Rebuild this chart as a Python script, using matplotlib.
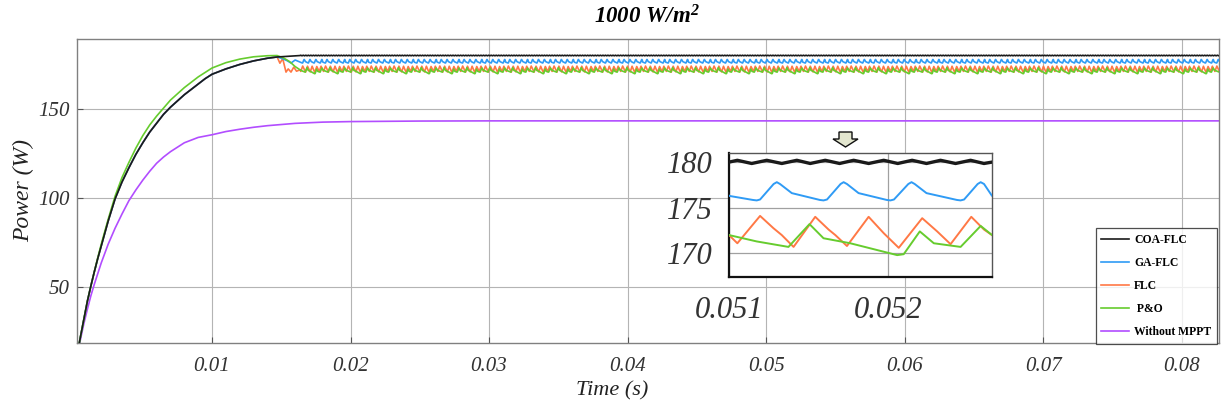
import numpy as np
import matplotlib
matplotlib.use("Agg")
import matplotlib.pyplot as plt
from matplotlib.patches import Polygon

# ---------------- data ----------------
rise_t = [0, 0.00025, 0.0005, 0.00075, 0.001, 0.00125, 0.0015, 0.00175, 0.002,
          0.0025, 0.003, 0.0035, 0.004, 0.0045, 0.005, 0.0055, 0.006, 0.0065,
          0.007, 0.0075, 0.008, 0.0085, 0.009, 0.0095, 0.010, 0.011, 0.012,
          0.013, 0.014, 0.0147]
coa_rise = [0, 11.5, 22, 32, 42, 50.5, 58.5, 66, 73, 87, 99.5, 109, 117, 124.5,
            131, 137, 142, 147, 151, 154.5, 158, 161, 164, 167, 169.5, 172.5,
            175, 177, 178.5, 179.2]
po_rise = [0, 11.5, 22, 32, 42, 50.5, 58.5, 66.5, 74, 88, 101, 111.5, 120, 128,
           135, 141, 146, 150.5, 155, 158.5, 162, 165, 168, 170.5, 173, 176,
           178, 179.3, 179.9, 180.0]

coa_trans_t = [0.0155]
coa_trans = [179.6]
ga_trans_t = [0.0150, 0.0154, 0.0157, 0.0160]
ga_trans = [178.5, 177.2, 175.8, 177.5]
flc_trans_t = [0.0149, 0.0151, 0.01534, 0.0155, 0.0157, 0.0159, 0.0161]
flc_trans = [175.7, 178.3, 170.7, 172.5, 170.7, 173.5, 171.2]
po_trans_t = [0.0152, 0.0156, 0.0160]
po_trans = [178.5, 176.6, 173.8]

# steady-state ripple, one 1.65 ms window (offsets in s)
steady_t0 = 0.01635
window = 0.00165
n_windows = 42
coa_off = [0, 0.0000524, 0.0001425, 0.0002369, 0.0003312, 0.0004256, 0.0005094,
           0.0006038, 0.0006939, 0.0007820, 0.0008763, 0.0009706, 0.0010587,
           0.0011488, 0.0012390, 0.0013270, 0.0014214, 0.0015157, 0.0015996]
coa_rip = [180.0, 180.2, 179.85, 180.2, 179.85, 180.2, 179.85, 180.2, 179.85,
           180.2, 179.85, 180.2, 179.85, 180.2, 179.85, 180.2, 179.85, 180.2,
           179.85]
ga_off = [0, 0.000150, 0.000174, 0.000195, 0.000280, 0.000300, 0.000320,
          0.000394, 0.000570, 0.000593, 0.000615, 0.000700, 0.000719, 0.000740,
          0.000813, 0.000990, 0.001013, 0.001035, 0.001125, 0.001145, 0.001165,
          0.001239, 0.001430, 0.001453, 0.001475, 0.001560, 0.001579, 0.001600]
ga_rip = [176.3, 175.85, 175.8, 175.9, 177.6, 177.8, 177.6, 176.6, 175.85, 175.8,
          175.9, 177.6, 177.8, 177.6, 176.6, 175.85, 175.8, 175.9, 177.6, 177.8,
          177.6, 176.6, 175.85, 175.8, 175.9, 177.6, 177.8, 177.6]
flc_off = [0, 0.0000524, 0.000195, 0.000279, 0.000331, 0.000405, 0.000541,
           0.000625, 0.000667, 0.000740, 0.000876, 0.000971, 0.001065, 0.001212,
           0.001306, 0.001390, 0.001520, 0.001600]
flc_rip = [172.0, 171.1, 174.1, 172.75, 172.0, 170.7, 174.0, 172.6, 172.0, 170.8,
           174.0, 172.2, 170.6, 173.85, 172.4, 171.0, 174.0, 172.6]
po_off = [0, 0.000174, 0.000373, 0.000505, 0.000593, 0.000761, 0.001055,
          0.001096, 0.001197, 0.001285, 0.001453, 0.001579]
po_rip = [172.0, 171.3, 170.7, 173.2, 171.65, 171.1, 169.8, 169.9, 172.4, 171.1,
          170.7, 173.0]

nompt_t = [0, 0.00025, 0.0005, 0.00075, 0.001, 0.00125, 0.0015, 0.00175, 0.002,
           0.0025, 0.003, 0.0035, 0.004, 0.0045, 0.005, 0.0055, 0.006, 0.0065,
           0.007, 0.008, 0.009, 0.010, 0.011, 0.012, 0.013, 0.014, 0.016, 0.018,
           0.020, 0.025, 0.030, 0.085]
nompt = [0, 10.5, 20.5, 29.5, 37.5, 45, 51.5, 57.5, 63.5, 74, 83, 91, 98.5, 104.5,
         110, 115, 119.5, 123, 126, 131, 134, 135.5, 137.3, 138.6, 139.7, 140.6,
         141.9, 142.6, 142.9, 143.2, 143.3, 143.3]

labels = ["COA-FLC", "GA-FLC", "FLC", " P&O", "Without MPPT"]
colors = ["#1a1a1a", "#2f9bf5", "#ff7845", "#66cc2e", "#b24dff"]

title = "1000 W/m$^{2}$"
xlabel = "Time (s)"
ylabel = "Power (W)"
xticks = [0.01, 0.02, 0.03, 0.04, 0.05, 0.06, 0.07, 0.08]
xticklabels = ["0.01", "0.02", "0.03", "0.04", "0.05", "0.06", "0.07", "0.08"]
yticks = [50, 100, 150]
in_xticks = [0.051, 0.052]
in_yticks = [170, 175, 180]


def build(start_t, start_v, tr_t, tr_v, off, rip):
    t = [np.asarray(start_t, float), np.asarray(tr_t, float)]
    v = [np.asarray(start_v, float), np.asarray(tr_v, float)]
    for k in range(n_windows):
        t.append(np.asarray(off) + steady_t0 + k * window)
        v.append(np.asarray(rip, float))
    return np.concatenate(t), np.concatenate(v)


series = [
    build(rise_t, coa_rise, coa_trans_t, coa_trans, coa_off, coa_rip),
    build(rise_t, coa_rise, ga_trans_t, ga_trans, ga_off, ga_rip),
    build(rise_t, coa_rise, flc_trans_t, flc_trans, flc_off, flc_rip),
    build(rise_t, po_rise, po_trans_t, po_trans, po_off, po_rip),
    (np.asarray(nompt_t), np.asarray(nompt)),
]

# ---------------- figure ----------------
plt.rcParams["font.family"] = ["Liberation Serif", "DejaVu Serif"]
plt.rcParams["mathtext.fontset"] = "custom"
plt.rcParams["mathtext.rm"] = "Liberation Serif:bold:italic"
plt.rcParams["mathtext.it"] = "Liberation Serif:bold:italic"
plt.rcParams["mathtext.bf"] = "Liberation Serif:bold:italic"

W, H = 1221, 409
fig = plt.figure(figsize=(W / 100, H / 100), dpi=100)
ax = fig.add_axes([77 / W, 1 - 343 / H, (1219 - 77) / W, (343 - 39) / H])

zorders = [6, 4, 3, 5, 2]
handles = []
for (t, v), lab, c, z in zip(series, labels, colors, zorders):
    h, = ax.plot(t, v, color=c, lw=1.2, label=lab, zorder=z)
    handles.append(h)

ax.set_xlim(0.00025, 0.0827)
ax.set_ylim(18.5, 189.3)
ax.set_xticks(xticks)
ax.set_xticklabels(xticklabels)
ax.set_yticks(yticks)
ax.grid(True, color="#b4b4b4", lw=0.8)
for s in ax.spines.values():
    s.set_color("#808080")
    s.set_linewidth(1.0)
ax.tick_params(direction="in", length=4, color="#555555", labelcolor="#333333",
               labelsize=15)
ax.tick_params(axis="x", pad=10)
ax.tick_params(axis="y", pad=5)
for lab in ax.get_xticklabels() + ax.get_yticklabels():
    lab.set_style("italic")

ax.set_ylabel(ylabel, fontsize=17, style="italic", color="#222222", labelpad=3)
ax.set_xlabel(xlabel, fontsize=16, style="italic", color="#222222")
ax.xaxis.set_label_coords((612 - 77) / (1219 - 77), -(391 - 343) / (343 - 39))
ax.xaxis.label.set_va("center")

fig.text(647 / W, 1 - 17 / H, title, ha="center", va="center", fontsize=16.5,
         fontweight="bold", style="italic")

leg = fig.legend(handles=handles, labels=labels, loc="lower right",
                 bbox_to_anchor=(1217 / W, 1 - 344 / H),
                 bbox_transform=fig.transFigure, borderaxespad=0,
                 prop={"family": "Liberation Serif", "weight": "bold", "size": 8.4},
                 frameon=True, fancybox=False, handlelength=2.4,
                 handletextpad=0.4, labelspacing=0.95, borderpad=0.5)
leg.get_frame().set_edgecolor("#222222")
leg.get_frame().set_linewidth(0.9)
leg.set_zorder(20)

# ---------------- inset ----------------
axin = fig.add_axes([729 / W, 1 - 277 / H, (992 - 729) / W, (277 - 153) / H])
for (t, v), lab, c, z in zip(series[:4], labels, colors, zorders):
    axin.plot(t, v, color=c, lw=2.4 if z == 6 else 1.4, zorder=z)
axin.set_xlim(0.051, 0.05265)
axin.set_ylim(167.4, 181)
axin.set_xticks(in_xticks)
axin.set_xticklabels(["0.051", "0.052"])
axin.set_yticks(in_yticks)
axin.grid(True, color="#a0a0a0", lw=0.9)
axin.tick_params(length=0, labelsize=22, labelcolor="#333333")
axin.tick_params(axis="x", pad=14)
axin.tick_params(axis="y", pad=12)
for lab in axin.get_xticklabels() + axin.get_yticklabels():
    lab.set_style("italic")
for side in ["left", "bottom"]:
    axin.spines[side].set_color("#111111")
    axin.spines[side].set_linewidth(1.6)
for side in ["top", "right"]:
    axin.spines[side].set_color("#555555")
    axin.spines[side].set_linewidth(1.0)

# small down-arrow marker above the inset
arrow_px = [(839, 132), (852, 132), (852, 139), (858, 139), (845.5, 147),
            (833, 139), (839, 139)]
arrow = Polygon([(x / W, 1 - y / H) for x, y in arrow_px], closed=True,
                facecolor="#e3e6cf", edgecolor="#111111", lw=1.0,
                transform=fig.transFigure)
fig.patches.append(arrow)

fig.savefig("out.png", dpi=100)
